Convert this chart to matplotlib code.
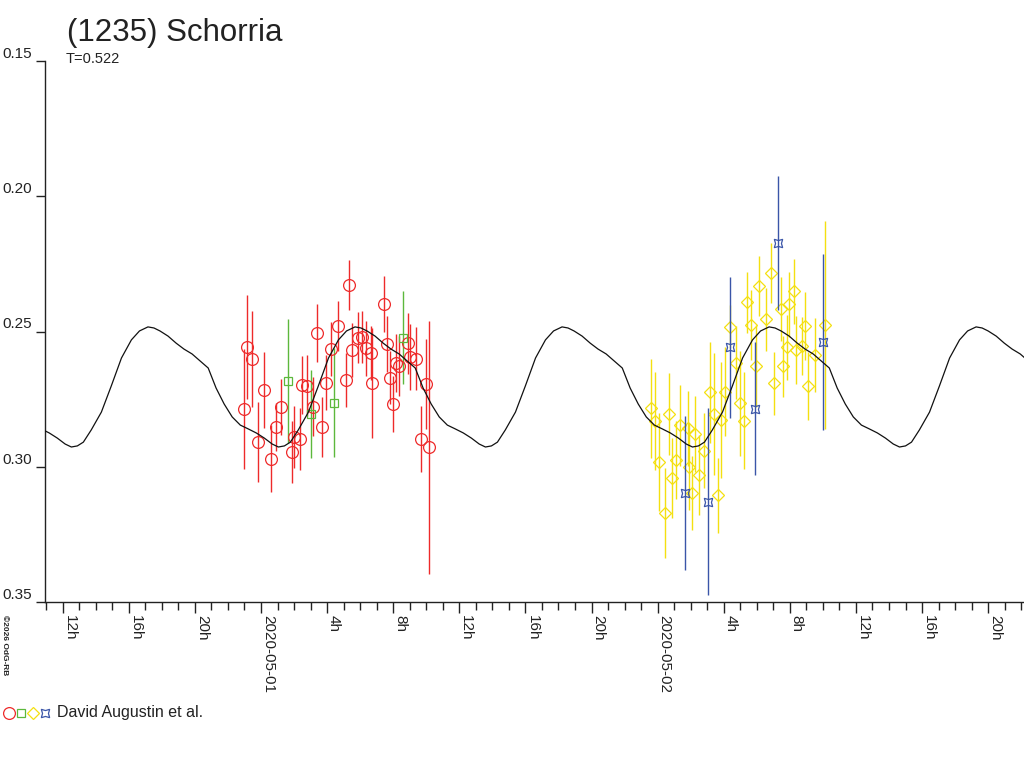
import matplotlib.pyplot as plt
import numpy as np
from matplotlib.lines import Line2D
from matplotlib.ticker import FixedLocator

plt.rcParams['font.family'] = ['Liberation Sans', 'DejaVu Sans']

# time in hours since 2020-04-30 00:00 UT, magnitude and error
red_t = [23.15, 23.46, 22.99, 24.20, 23.80, 24.89, 24.62, 25.21, 25.88, 26.00,
         26.34, 26.48, 26.78, 27.15, 27.41, 27.69, 27.95, 28.25, 28.68, 29.33,
         29.14, 29.53, 29.87, 30.13, 30.35, 30.64, 30.74, 31.46, 31.64, 31.82,
         32.01, 32.17, 32.37, 32.88, 33.02, 33.38, 33.97, 33.70, 34.19]
red_m = [0.2557, 0.2602, 0.2787, 0.2716, 0.2909, 0.2853, 0.2971, 0.2779, 0.2946, 0.2890,
         0.2896, 0.2698, 0.2700, 0.2779, 0.2504, 0.2852, 0.2690, 0.2565, 0.2480, 0.2328,
         0.2679, 0.2568, 0.2523, 0.2519, 0.2562, 0.2581, 0.2689, 0.2398, 0.2546, 0.2671,
         0.2769, 0.2618, 0.2628, 0.2544, 0.2595, 0.2601, 0.2694, 0.2897, 0.2928]
red_e = [0.0192, 0.0176, 0.0222, 0.0139, 0.0148, 0.0089, 0.0124, 0.0105, 0.0115, 0.0115,
         0.0115, 0.0107, 0.0113, 0.0109, 0.0107, 0.0111, 0.0102, 0.0100, 0.0092, 0.0094,
         0.0100, 0.0100, 0.0094, 0.0096, 0.0102, 0.0100, 0.0203, 0.0102, 0.0104, 0.0098,
         0.0104, 0.0107, 0.0111, 0.0113, 0.0122, 0.0116, 0.0165, 0.0122, 0.0468]

green_t = [25.63, 27.03, 28.39, 32.61]
green_m = [0.2682, 0.2805, 0.2763, 0.2523]
green_e = [0.0229, 0.0163, 0.0201, 0.0172]

yellow_t = [47.62, 47.82, 48.10, 48.71, 48.45, 48.85, 49.10, 49.37, 49.82, 49.92,
            50.28, 50.10, 50.52, 50.79, 51.15, 51.41, 51.66, 51.86, 52.05, 52.38,
            52.73, 52.99, 53.25, 53.43, 53.63, 53.94, 54.15, 54.58, 54.86, 55.04,
            55.49, 55.61, 55.81, 55.97, 56.25, 56.38, 56.72, 56.94, 57.12, 57.52, 58.15]
yellow_m = [0.2784, 0.2830, 0.2984, 0.2804, 0.3172, 0.3041, 0.2975, 0.2846, 0.2858, 0.3000,
            0.2880, 0.3098, 0.3029, 0.2941, 0.2725, 0.2805, 0.3106, 0.2827, 0.2723, 0.2482,
            0.2615, 0.2765, 0.2830, 0.2392, 0.2477, 0.2628, 0.2333, 0.2455, 0.2285, 0.2692,
            0.2417, 0.2629, 0.2559, 0.2400, 0.2351, 0.2568, 0.2553, 0.2480, 0.2702, 0.2587, 0.2477]
yellow_e = [0.0183, 0.0181, 0.0181, 0.0152, 0.0166, 0.0148, 0.0144, 0.0150, 0.0139, 0.0161,
            0.0140, 0.0137, 0.0148, 0.0139, 0.0187, 0.0226, 0.0139, 0.0214, 0.0165, 0.0080,
            0.0135, 0.0194, 0.0179, 0.0113, 0.0129, 0.0152, 0.0111, 0.0116, 0.0111, 0.0116,
            0.0118, 0.0113, 0.0120, 0.0120, 0.0120, 0.0126, 0.0107, 0.0126, 0.0126, 0.0137, 0.0384]

blue_t = [49.66, 51.03, 52.38, 53.89, 55.29, 58.01]
blue_m = [0.3097, 0.3129, 0.2559, 0.2785, 0.2172, 0.2539]
blue_e = [0.0283, 0.0346, 0.0259, 0.0246, 0.0248, 0.0325]

# model lightcurve over one period, phase 0 at maximum
period_days = 0.522
peak_t = 17.16
curve_phase = [0.0, 0.029, 0.058, 0.097, 0.136, 0.174, 0.213, 0.252, 0.291, 0.329,
               0.368, 0.407, 0.446, 0.484, 0.523, 0.562, 0.600, 0.630, 0.659, 0.688,
               0.726, 0.775, 0.823, 0.872, 0.920, 0.959]
curve_mag = [0.2483, 0.2487, 0.2498, 0.2517, 0.2543, 0.2565, 0.2583, 0.2609, 0.2635, 0.2709,
             0.2768, 0.2816, 0.2846, 0.2860, 0.2875, 0.2894, 0.2916, 0.2927, 0.2923, 0.2909,
             0.2864, 0.2798, 0.2701, 0.2598, 0.2531, 0.2498]

major_hours = list(range(12, 69, 4))
yticks = [0.15, 0.20, 0.25, 0.30, 0.35]


def hour_label(h):
    if h % 24 == 0:
        day = h // 24
        return "2020-05-%02d" % day
    return "%dh" % (h % 24)


fig = plt.figure(figsize=(10.24, 7.68), dpi=100)
ax = fig.add_axes([45 / 1024, 1 - 602 / 768, 1 - 45 / 1024, (602 - 61) / 768])

period = period_days * 24
ct = []
cm = []
for k in range(-1, 5):
    for p, m in zip(curve_phase, curve_mag):
        ct.append(peak_t + (k + p) * period)
        cm.append(m)
ax.plot(ct, cm, color='#111111', lw=0.9, zorder=5)

ax.errorbar(red_t, red_m, yerr=red_e, fmt='o', ms=8.5, mfc='none', mec='#ee2a2a',
            mew=0.9, ecolor='#ee2a2a', elinewidth=1.0, capsize=0, zorder=3)
ax.errorbar(green_t, green_m, yerr=green_e, fmt='s', ms=6.2, mfc='none', mec='#5cb83c',
            mew=0.9, ecolor='#5cb83c', elinewidth=1.0, capsize=0, zorder=3)
ax.errorbar(yellow_t, yellow_m, yerr=yellow_e, fmt='D', ms=6.3, mfc='none', mec='#f4e010',
            mew=0.9, ecolor='#f4e010', elinewidth=1.0, capsize=0, zorder=3)
ax.errorbar(blue_t, blue_m, yerr=blue_e, fmt='none', ecolor='#3a55a8',
            elinewidth=1.0, capsize=0, zorder=4)
ax.plot(blue_t, blue_m, ls='none', marker=(4, 1, 45), ms=8.5, mfc='none', mec='#3a55a8',
        mew=0.9, zorder=4)

ax.set_xlim(10.93, 70.17)
ax.set_ylim(0.35, 0.15)

ax.spines['top'].set_visible(False)
ax.spines['right'].set_visible(False)
for s in ('left', 'bottom'):
    ax.spines[s].set_color('#222222')
    ax.spines[s].set_linewidth(1.0)

ax.xaxis.set_major_locator(FixedLocator(major_hours))
ax.xaxis.set_minor_locator(FixedLocator(range(11, 71)))
ax.set_xticklabels([hour_label(h) for h in major_hours], rotation=-90,
                   ha='left', va='top', fontsize=11, color='#222222')
ax.tick_params(axis='x', which='major', length=8, width=1.0, color='#222222', pad=1.5)
ax.tick_params(axis='x', which='minor', length=5.8, width=1.0, color='#222222')

ax.set_yticks(yticks)
ax.set_yticklabels(["%.2f" % v for v in yticks], fontsize=11, color='#222222')
ax.tick_params(axis='y', length=6.5, width=1.0, color='#222222', pad=3)
for lab in ax.get_yticklabels():
    lab.set_va('bottom')

fig.text(67 / 1024, 1 - 41 / 768, "(1235) Schorria", fontsize=22.5, color='#222222',
         va='baseline', ha='left')
fig.text(66 / 1024, 1 - 63 / 768, "T=0.522", fontsize=10.5, color='#222222',
         va='baseline', ha='left')
fig.text(4 / 1024, 1 - 615 / 768, "\u00a92026 OdG-RB", fontsize=6, fontweight='bold',
         rotation=-90, ha='center', va='top', color='#222222')

# legend row
ly = 1 - 713 / 768
leg = [(9, 'o', 8.5, '#ee2a2a'), (21, 's', 6.2, '#5cb83c'),
       (33, 'D', 6.3, '#f4e010'), (45, (4, 1, 45), 8.5, '#3a55a8')]
for x, mk, ms, c in leg:
    fig.add_artist(Line2D([x / 1024], [ly], transform=fig.transFigure, marker=mk, ms=ms,
                          mfc='none', mec=c, mew=0.9, ls='none'))
fig.text(57 / 1024, 1 - 717.5 / 768, "David Augustin et al.", fontsize=11.5,
         color='#222222', va='baseline', ha='left')

fig.savefig('out.png', dpi=100)
